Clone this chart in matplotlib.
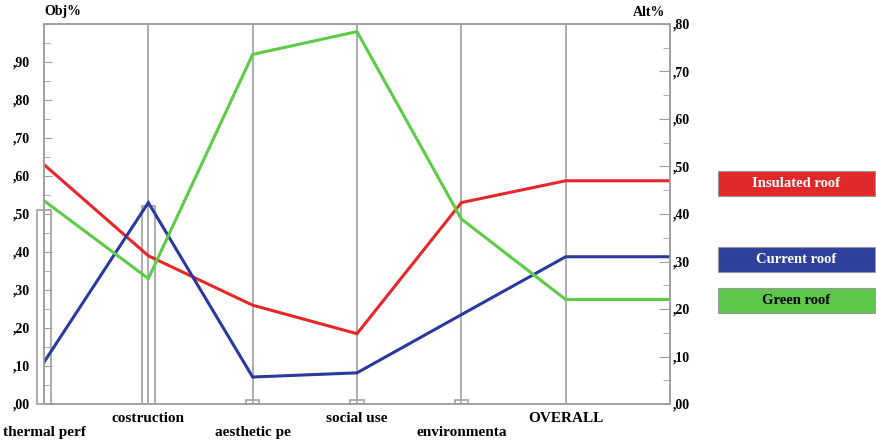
import matplotlib
matplotlib.use("Agg")
import matplotlib.pyplot as plt
from matplotlib.patches import Rectangle
from matplotlib.ticker import MultipleLocator, FuncFormatter

# criteria (left axis Obj%) and overall score (right axis Alt%)
criteria = ["thermal perf", "costruction", "aesthetic pe", "social use", "environmenta"]
overall_label = "OVERALL"
weights = [0.51, 0.52, 0.01, 0.01, 0.01]

alternatives = ["Insulated roof", "Current roof", "Green roof"]
scores = {
    "Insulated roof": [0.63, 0.39, 0.26, 0.185, 0.53],
    "Current roof": [0.11, 0.53, 0.071, 0.082, 0.235],
    "Green roof": [0.535, 0.33, 0.92, 0.98, 0.487],
}
overall = {"Insulated roof": 0.47, "Current roof": 0.31, "Green roof": 0.22}

colors = {"Insulated roof": "#e8262a", "Current roof": "#2b389e", "Green roof": "#5ccb45"}
box_colors = {"Insulated roof": "#e0282a", "Current roof": "#2f3f9c", "Green roof": "#5ec84c"}
text_colors = {"Insulated roof": "white", "Current roof": "white", "Green roof": "black"}

left_max = 1.0
right_max = 0.8
grey = "#a0a0a0"
font = "Liberation Serif"

fig = plt.figure(figsize=(8.76, 4.45), dpi=100)
ax = fig.add_axes([44 / 876, 41 / 445, 626 / 876, 380 / 445])
ax2 = ax.twinx()

ax.set_xlim(0, 6)
ax.set_ylim(0, left_max)
ax2.set_ylim(0, right_max)

n = len(criteria)
xs = list(range(n + 2))

# weight bars
bars = ax.bar(range(n), weights, width=0.13, color="white", edgecolor=grey, linewidth=1.2, zorder=1)
for b in bars:
    b.set_clip_on(False)

# vertical criterion lines
for x in range(1, n + 1):
    ax.axvline(x, color=grey, lw=1.2, zorder=2)

# alternative lines (overall value rescaled from right axis onto left axis)
for alt in alternatives:
    ov = overall[alt] * left_max / right_max
    ys = scores[alt] + [ov, ov]
    ax.plot(xs, ys, color=colors[alt], lw=2.2, zorder=3, solid_joinstyle="miter")

for a in (ax, ax2):
    for s in a.spines.values():
        s.set_color(grey)
        s.set_linewidth(1.2)
    a.tick_params(axis="y", which="both", direction="in", colors=grey)

ax.set_xticks([])
ax.yaxis.set_major_locator(MultipleLocator(0.1))
ax.yaxis.set_minor_locator(MultipleLocator(0.05))
ax2.yaxis.set_major_locator(MultipleLocator(0.1))
ax2.yaxis.set_minor_locator(MultipleLocator(0.05))
fmt = FuncFormatter(lambda v, p: "" if v > 0.95 else ",%02d" % round(v * 100))
ax.yaxis.set_major_formatter(fmt)
ax2.yaxis.set_major_formatter(fmt)
ax.tick_params(axis="y", which="major", length=6, pad=10, labelcolor="black")
ax.tick_params(axis="y", which="minor", length=4)
ax2.tick_params(axis="y", which="major", length=8, pad=2, labelcolor="black")
ax2.tick_params(axis="y", which="minor", length=5)
for lab in ax.get_yticklabels() + ax2.get_yticklabels():
    lab.set_fontfamily(font)
    lab.set_fontweight("bold")
    lab.set_fontsize(10)

# staggered category labels
labels = criteria + [overall_label]
trans = ax.get_xaxis_transform()
for i, lab in enumerate(labels):
    y = -0.037 if i % 2 else -0.076
    ax.text(i, y, lab, transform=trans, ha="center", va="center", fontfamily=font,
            fontweight="bold", fontsize=11)

fig.text(44 / 876, 1 - 12 / 445, "Obj%", ha="left", va="center", fontfamily=font,
         fontweight="bold", fontsize=10)
fig.text(665 / 876, 1 - 13 / 445, "Alt%", ha="right", va="center", fontfamily=font,
         fontweight="bold", fontsize=10)

# legend boxes
box_top = {"Insulated roof": 171, "Current roof": 247, "Green roof": 288}
for alt in alternatives:
    y0 = 1 - (box_top[alt] + 25) / 445
    fig.add_artist(Rectangle((718 / 876, y0), 157 / 876, 25 / 445, transform=fig.transFigure,
                             facecolor=box_colors[alt], edgecolor="#999999", lw=0.8))
    fig.text((718 + 78.5) / 876, y0 + 12.5 / 445, alt, ha="center", va="center",
             color=text_colors[alt], fontfamily=font, fontweight="bold", fontsize=10.5)

fig.savefig("out.png", dpi=100)
